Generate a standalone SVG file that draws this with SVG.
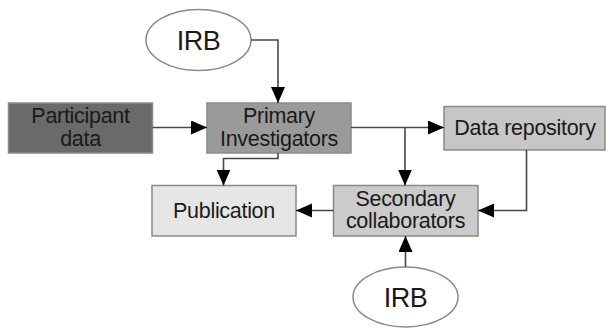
<svg xmlns="http://www.w3.org/2000/svg" width="606" height="328" viewBox="0 0 606 328">
<style>
.box{stroke:#8a8a8a;stroke-width:1.5}
.ell{fill:#fff;stroke:#8a8a8a;stroke-width:1.5}
.t{font-family:"Liberation Sans",Arial,sans-serif;font-size:21.5px;letter-spacing:-0.3px;fill:#1a1a1a;text-anchor:middle}
.irb{font-size:27px;letter-spacing:-0.5px}
.c{fill:none;stroke:#474747;stroke-width:1.6}
</style>
<defs>
<marker id="ah" markerUnits="userSpaceOnUse" markerWidth="18" markerHeight="16" refX="16" refY="7" orient="auto">
<path d="M0,0 L16,7 L0,14 Z" fill="#000"/>
</marker>
</defs>
<g id="irb-top">
<ellipse class="ell" cx="198.5" cy="40" rx="52.5" ry="30.5"/>
<text class="t irb" x="198.5" y="50">IRB</text>
</g>
<g id="participant">
<rect class="box" x="8.5" y="103" width="144" height="50" fill="#6a6a6a"/>
<text class="t" x="80.5" y="123">Participant</text>
<text class="t" x="80.5" y="145.5">data</text>
</g>
<g id="primary">
<rect class="box" x="207" y="103" width="144" height="50" fill="#9a9a9a"/>
<text class="t" x="279" y="123">Primary</text>
<text class="t" x="279" y="145.5">Investigators</text>
</g>
<g id="repository">
<rect class="box" x="444" y="106.5" width="161" height="43.5" fill="#c6c6c6"/>
<text class="t" x="525" y="135">Data repository</text>
</g>
<g id="publication">
<rect class="box" x="152" y="185.5" width="144" height="50.5" fill="#e6e6e6"/>
<text class="t" x="224" y="218">Publication</text>
</g>
<g id="secondary">
<rect class="box" x="333.5" y="185.5" width="144.5" height="50.5" fill="#cbcbcb"/>
<text class="t" x="405.5" y="205.5">Secondary</text>
<text class="t" x="405.5" y="228">collaborators</text>
</g>
<g id="irb-bottom">
<ellipse class="ell" cx="405.5" cy="297" rx="52.5" ry="30"/>
<text class="t irb" x="405.5" y="307">IRB</text>
</g>
<g id="connectors">
<path class="c" d="M251,40 H278 V103" marker-end="url(#ah)"/>
<path class="c" d="M152.5,127.5 H207" marker-end="url(#ah)"/>
<path class="c" d="M351,127.5 H444" marker-end="url(#ah)"/>
<path class="c" d="M405,127.5 V185.5" marker-end="url(#ah)"/>
<path class="c" d="M278,153 V158.5 H223.5 V185.5" marker-end="url(#ah)"/>
<path class="c" d="M333.5,210.5 H296" marker-end="url(#ah)"/>
<path class="c" d="M526.5,150 V210.5 H478" marker-end="url(#ah)"/>
<path class="c" d="M405.5,267 V236" marker-end="url(#ah)"/>
</g>
</svg>
